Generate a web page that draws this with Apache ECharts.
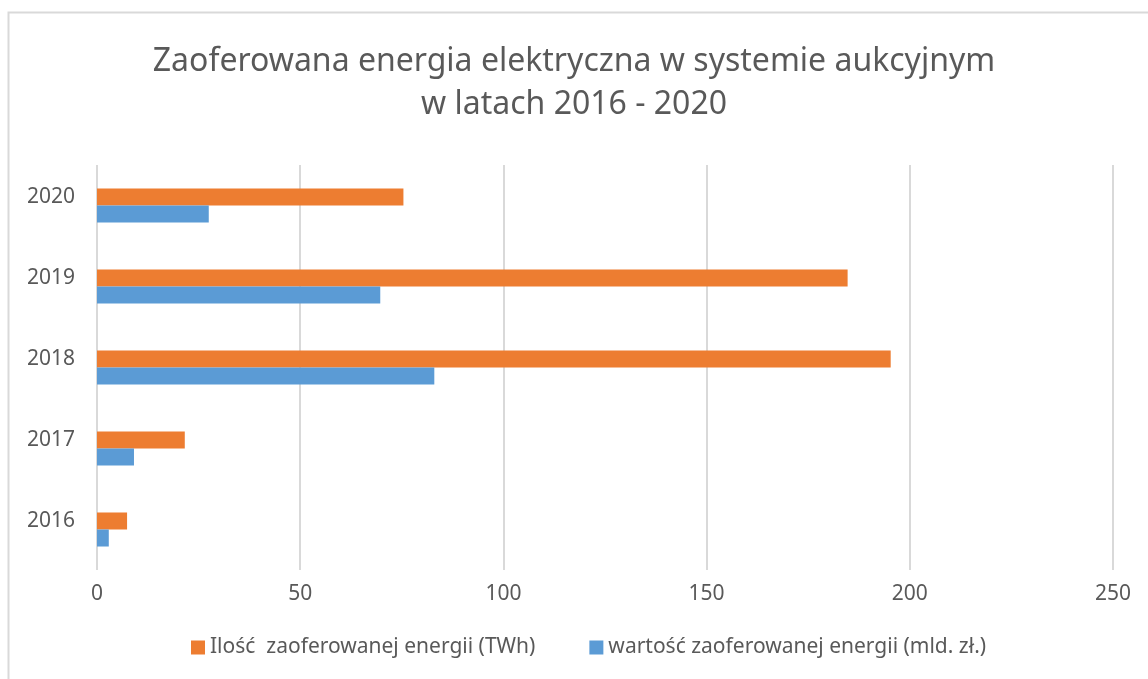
<!DOCTYPE html>
<html>
<head>
<meta charset="utf-8">
<script src="https://cdn.jsdelivr.net/npm/echarts@6/dist/echarts.min.js"></script>
<style>
  html, body { margin: 0; padding: 0; background: #fff; }
  #chart { width: 1148px; height: 679px; }
</style>
</head>
<body>
<div id="chart"></div>
<script>
const years = ["2016", "2017", "2018", "2019", "2020"];
const energyTWh = [7.4, 21.6, 195.3, 184.7, 75.4];
const valueBln = [2.9, 9.1, 83.0, 69.7, 27.5];
const xTicks = [0, 50, 100, 150, 200, 250];

const energyName = "Ilość  zaoferowanej energii (TWh)";
const valueName = "wartość zaoferowanej energii (mld. zł.)";

const textColor = "#595959";
const font = "'Noto Sans', sans-serif";

const chart = echarts.init(document.getElementById("chart"), null, { renderer: "canvas" });

chart.setOption({
  animation: false,
  backgroundColor: "#fff",
  title: {
    text: "Zaoferowana energia elektryczna w systemie aukcyjnym\nw latach 2016 - 2020",
    left: "center",
    top: 35,
    textStyle: {
      fontFamily: font,
      fontSize: 32,
      fontWeight: "normal",
      color: textColor,
      lineHeight: 43
    }
  },
  graphic: [
    {
      type: "polyline",
      shape: { points: [[8.5, 679], [8.5, 12.5], [1148, 12.5]] },
      style: { stroke: "#d9d9d9", lineWidth: 2, fill: null },
      silent: true
    }
  ],
  legend: {
    data: [energyName, valueName],
    top: 632,
    left: 186,
    icon: "rect",
    itemWidth: 14,
    itemHeight: 14,
    itemGap: 54,
    textStyle: { fontFamily: font, fontSize: 21, color: textColor }
  },
  grid: { left: 97, right: 35, top: 165, bottom: 109 },
  xAxis: {
    type: "value",
    min: xTicks[0],
    max: xTicks[xTicks.length - 1],
    interval: 50,
    axisLine: { show: false },
    axisTick: { show: false },
    axisLabel: { fontFamily: font, fontSize: 21, color: textColor, margin: 14 },
    splitLine: { lineStyle: { color: "#d9d9d9", width: 2 } }
  },
  yAxis: {
    type: "category",
    data: years,
    axisLine: { show: false },
    axisTick: { show: false },
    axisLabel: {
      fontFamily: font,
      fontSize: 21,
      color: textColor,
      margin: 22,
      verticalAlign: "bottom",
      lineHeight: 16
    }
  },
  series: [
    {
      name: energyName,
      type: "bar",
      data: energyTWh,
      barGap: "0%",
      barCategoryGap: "58%",
      itemStyle: { color: "#ED7D31" }
    },
    {
      name: valueName,
      type: "bar",
      data: valueBln,
      barGap: "0%",
      barCategoryGap: "58%",
      itemStyle: { color: "#5B9BD5" }
    }
  ]
});
</script>
</body>
</html>
